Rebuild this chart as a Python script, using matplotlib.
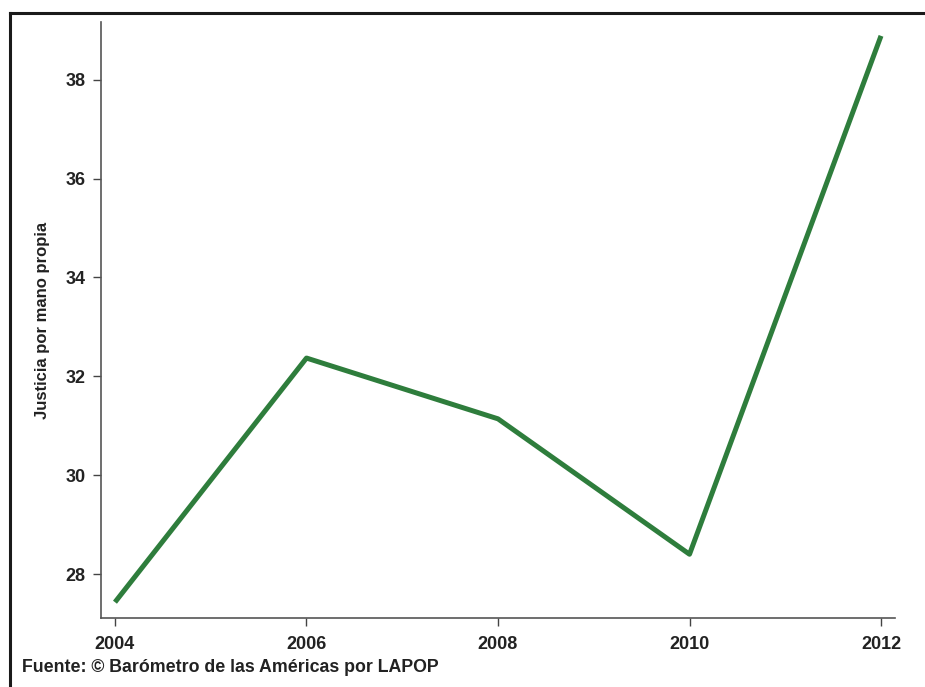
import matplotlib.pyplot as plt
from matplotlib.lines import Line2D

# datos
years = [2004, 2006, 2008, 2010, 2012]
values = [27.43, 32.37, 31.14, 28.40, 38.89]
yticks = [28, 30, 32, 34, 36, 38]

plt.rcParams['font.family'] = ['Liberation Sans', 'DejaVu Sans']
plt.rcParams['font.weight'] = 'bold'

fig = plt.figure(figsize=(9.25, 6.87), dpi=100)
ax = fig.add_axes([101 / 925, 1 - 618 / 687, 794 / 925, 596 / 687])

ax.plot(years, values, color='#2e7d3c', linewidth=3.6, solid_capstyle='butt')

ax.set_xlim(2003.854, 2012.146)
ax.set_ylim(27.11, 39.17)
ax.set_xticks(years)
ax.set_yticks(yticks)
ax.tick_params(axis='both', direction='out', length=6, width=1, color='#444444',
               labelsize=13, labelcolor='#222222')
ax.tick_params(axis='x', pad=7)
ax.tick_params(axis='y', pad=5)
for lab in ax.get_xticklabels() + ax.get_yticklabels():
    lab.set_fontweight('bold')

for s in ['top', 'right']:
    ax.spines[s].set_visible(False)
for s in ['left', 'bottom']:
    ax.spines[s].set_color('#555555')
    ax.spines[s].set_linewidth(1.2)

ax.set_ylabel('Justicia por mano propia', fontsize=12, fontweight='bold',
              color='#222222')
ax.yaxis.set_label_coords(-0.064, 0.5)

fig.text(22 / 925, 1 - 668 / 687, 'Fuente: © Barómetro de las Américas por LAPOP',
         fontsize=12.8, fontweight='bold', color='#222222', va='center', ha='left')

# marco exterior
fig.add_artist(Line2D([10 / 925, 1], [1 - 13 / 687, 1 - 13 / 687],
                      transform=fig.transFigure, color='#1a1a1a', linewidth=2.2))
fig.add_artist(Line2D([10 / 925, 10 / 925], [0, 1 - 13 / 687],
                      transform=fig.transFigure, color='#1a1a1a', linewidth=2.2))

fig.savefig('out.png', dpi=100)
